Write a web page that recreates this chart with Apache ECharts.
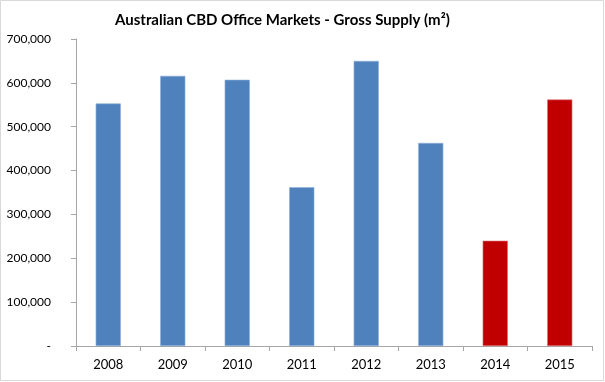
<!DOCTYPE html>
<html><head><meta charset="utf-8">
<script src="https://cdn.jsdelivr.net/npm/echarts@6/dist/echarts.min.js"></script>
<style>html,body{margin:0;padding:0;background:#fff}#c{width:605px;height:382px}</style>
</head><body><div id="c"></div>
<script>
const categories = ['2008','2009','2010','2011','2012','2013','2014','2015'];
const supply = [553000, 616000, 607000, 362000, 650000, 463000, 240000, 562000];
const barColors = ['#4F81BD','#4F81BD','#4F81BD','#4F81BD','#4F81BD','#4F81BD','#C00000','#C00000'];
const yTicks = [0,100000,200000,300000,400000,500000,600000,700000];

const chart = echarts.init(document.getElementById('c'), null, {renderer:'canvas'});
chart.setOption({
  animation:false,
  backgroundColor:'#fff',
  title:{text:'Australian CBD Office Markets - Gross Supply (m²)', left:110, top:8,
    textStyle:{fontFamily:'Lato', fontWeight:'bold', fontSize:15, color:'#000'}},
  graphic:[{type:'rect', shape:{x:0.5,y:0.5,width:603,height:380}, style:{fill:null, stroke:'#d9d9d9', lineWidth:1}}],
  grid:{left:76, right:13, top:39, bottom:36},
  xAxis:{type:'category', data:categories,
    axisLine:{lineStyle:{color:'#a6a6a6'}},
    axisTick:{show:true, length:5, lineStyle:{color:'#a6a6a6'}},
    axisLabel:{color:'#000', fontFamily:'Lato', fontSize:13, margin:12}},
  yAxis:{type:'value', min:0, max:700000, interval:100000,
    splitLine:{show:false},
    axisLine:{show:true, lineStyle:{color:'#a6a6a6'}},
    axisTick:{show:true, length:5, lineStyle:{color:'#a6a6a6'}},
    axisLabel:{color:'#000', fontFamily:'Lato', fontSize:12, margin:25,
      formatter:v=> v===0 ? '-' : v.toLocaleString('en-US')}},
  series:[{type:'bar', barCategoryGap:'61%',
    data:supply.map((v,i)=>({value:v, itemStyle:{color:barColors[i], borderColor: i>=6?'#E07070':'#8FB0DA', borderWidth:0.6}}))}]
});
</script></body></html>
